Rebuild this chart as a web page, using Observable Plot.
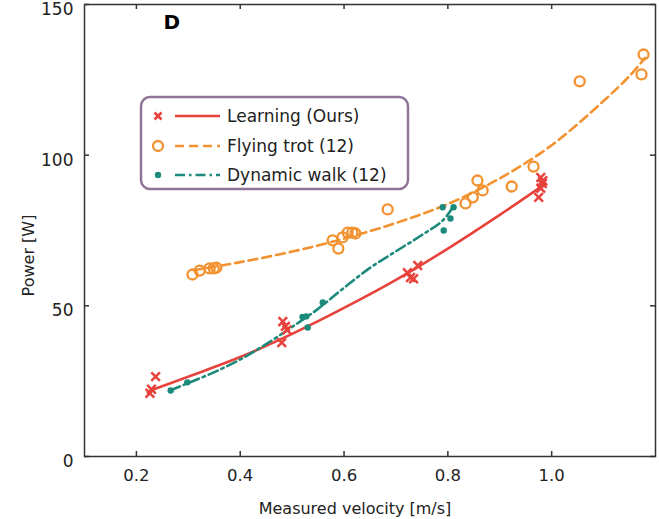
<!DOCTYPE html>
<html><head><meta charset="utf-8">
<script src="https://cdn.jsdelivr.net/npm/d3@7"></script>
<script src="https://cdn.jsdelivr.net/npm/@observablehq/plot@0.6"></script>
<style>
body{margin:0;background:#fff}
#chart svg{overflow:visible}
</style>
</head><body><div id="chart"></div>
<script>
// ---- data ----
const learningV = [0.226, 0.229, 0.237, 0.480, 0.482, 0.487, 0.490, 0.722, 0.728, 0.734, 0.742, 0.975, 0.979, 0.979, 0.982, 0.983];
const learningP = [21.0, 22.3, 26.5, 37.8, 44.8, 43.2, 42.0, 61.0, 59.4, 59.0, 63.4, 86.0, 92.6, 89.0, 90.6, 91.5];
const trotV = [0.308, 0.322, 0.341, 0.349, 0.354, 0.578, 0.589, 0.597, 0.607, 0.616, 0.622, 0.684, 0.834, 0.848, 0.857, 0.867, 0.923, 0.965, 1.054, 1.173, 1.177];
const trotP = [60.4, 61.7, 62.4, 62.4, 62.7, 71.7, 69.0, 72.7, 74.3, 74.3, 74.0, 82.0, 84.0, 86.0, 91.6, 88.3, 89.6, 96.2, 124.5, 126.8, 133.4];
const walkV = [0.266, 0.298, 0.520, 0.527, 0.530, 0.559, 0.790, 0.792, 0.805, 0.811];
const walkP = [21.9, 24.6, 46.3, 46.5, 42.8, 51.1, 82.7, 75.0, 79.0, 82.7];

// fitted curves
const learnFitV = [0.227, 0.3, 0.4, 0.5, 0.6, 0.7, 0.8, 0.9, 0.975];
const learnFitP = [21.9, 26.5, 33.0, 40.7, 49.3, 58.6, 69.0, 80.2, 89.0];
const trotFitV = [0.31, 0.4, 0.5, 0.6, 0.7, 0.8, 0.9, 1.0, 1.1, 1.15, 1.18];
const trotFitP = [61.8, 64.5, 68.0, 72.3, 77.5, 83.8, 92.3, 103.3, 118.0, 126.3, 132.3];
const walkFitV = [0.266, 0.3, 0.35, 0.4, 0.45, 0.5, 0.55, 0.6, 0.65, 0.7, 0.75, 0.79, 0.81];
const walkFitP = [22.0, 24.4, 28.0, 32.2, 37.3, 43.0, 49.0, 56.0, 62.6, 68.1, 73.5, 78.3, 82.8];

const xTicks = [0.2, 0.4, 0.6, 0.8, 1.0];
const yTicks = [0, 50, 100, 150];
const seriesNames = ["Learning (Ours)", "Flying trot (12)", "Dynamic walk (12)"];
const panelLabel = "D";
const xLabel = "Measured velocity [m/s]";
const yLabel = "Power [W]";

// ---- styling ----
const RED = "#e8423d", ORANGE = "#f39230", TEAL = "#1b8a7a";
const W = 659, H = 519, ML = 84, MR = 4, MT = 4, MB = 63;
const PW = W - ML - MR, PH = H - MT - MB;
const FONT = "DejaVu Sans, Verdana, sans-serif";

const pts = (xs, ys) => xs.map((x, i) => ({x, y: ys[i]}));

const plot = Plot.plot({
  width: W, height: H,
  marginLeft: ML, marginRight: MR, marginTop: MT, marginBottom: MB,
  style: {fontFamily: FONT, fontSize: "16px", color: "#222", background: "#fff"},
  x: {domain: [0.1, 1.2]},
  y: {domain: [0, 150]},
  marks: [
    Plot.axisX(xTicks, {tickSize: 0, tickPadding: 13, tickFormat: d3.format(".1f"), label: null, fontSize: 16.5}),
    Plot.axisY(yTicks, {tickSize: 0, tickPadding: 11, label: null, fontSize: 17, dy: 5}),
    // inward ticks on all four sides
    Plot.tickX(xTicks, {x: d => d, insetTop: PH - 5, stroke: "#333", strokeWidth: 1.5}),
    Plot.tickX(xTicks, {x: d => d, insetBottom: PH - 5, stroke: "#333", strokeWidth: 1.5}),
    Plot.tickY(yTicks, {y: d => d, insetRight: PW - 5, stroke: "#333", strokeWidth: 1.5}),
    Plot.tickY(yTicks, {y: d => d, insetLeft: PW - 5, stroke: "#333", strokeWidth: 1.5}),
    // fitted lines
    Plot.line(pts(learnFitV, learnFitP), {x: "x", y: "y", stroke: RED, strokeWidth: 2.6, curve: "catmull-rom"}),
    Plot.line(pts(trotFitV, trotFitP), {x: "x", y: "y", stroke: ORANGE, strokeWidth: 2.6, strokeDasharray: "9,5", curve: "catmull-rom"}),
    Plot.line(pts(walkFitV, walkFitP), {x: "x", y: "y", stroke: TEAL, strokeWidth: 2.6, strokeDasharray: "10,4,2.5,4", curve: "catmull-rom"}),
    // points
    Plot.dot(pts(learningV, learningP), {x: "x", y: "y", symbol: "times", r: 4, stroke: RED, strokeWidth: 2.5}),
    Plot.dot(pts(trotV, trotP), {x: "x", y: "y", symbol: "circle", r: 5, stroke: ORANGE, fill: "none", strokeWidth: 2.3}),
    Plot.dot(pts(walkV, walkP), {x: "x", y: "y", symbol: "circle", r: 3.2, fill: TEAL, stroke: "none"}),
    Plot.frame({stroke: "#333", strokeWidth: 1.5}),
    // texts
    Plot.text([panelLabel], {frameAnchor: "top-left", dx: 79, dy: 10, fontSize: 20, fontWeight: "bold", fill: "#000"}),
    Plot.text([yLabel], {frameAnchor: "left", textAnchor: "middle", lineAnchor: "middle", dx: -56, dy: 25, rotate: -90, fontSize: 16, fill: "#222"}),
    Plot.text([xLabel], {frameAnchor: "bottom", textAnchor: "middle", lineAnchor: "middle", dx: -15, dy: 52, fontSize: 16, fill: "#222"})
  ]
});
document.getElementById("chart").appendChild(plot);

// ---- legend ----
const svg = d3.select(plot);
const lg = svg.append("g").attr("font-family", FONT).attr("font-size", 17).attr("fill", "#222").attr("text-anchor", "start");
lg.append("rect").attr("x", 141).attr("y", 97).attr("width", 267).attr("height", 92)
  .attr("rx", 9).attr("fill", "#fff").attr("stroke", "#8f7597").attr("stroke-width", 2.5);
const rows = [
  {y: 116, color: RED, dash: null, sym: "x"},
  {y: 146, color: ORANGE, dash: "9,5", sym: "o"},
  {y: 175, color: TEAL, dash: "10,4,2.5,4", sym: "dot"}
];
rows.forEach((r, i) => {
  const g = lg.append("g");
  if (r.sym === "x") {
    g.append("path").attr("d", `M${158-3.5},${r.y-3.5}L${158+3.5},${r.y+3.5}M${158-3.5},${r.y+3.5}L${158+3.5},${r.y-3.5}`)
      .attr("stroke", r.color).attr("stroke-width", 2.5);
  } else if (r.sym === "o") {
    g.append("circle").attr("cx", 158).attr("cy", r.y).attr("r", 5).attr("fill", "none").attr("stroke", r.color).attr("stroke-width", 2.3);
  } else {
    g.append("circle").attr("cx", 158).attr("cy", r.y).attr("r", 3.2).attr("fill", r.color);
  }
  const ln = g.append("line").attr("x1", 175).attr("x2", 220).attr("y1", r.y).attr("y2", r.y)
    .attr("stroke", r.color).attr("stroke-width", 2.6);
  if (r.dash) ln.attr("stroke-dasharray", r.dash);
  g.append("text").attr("x", 227).attr("y", r.y).attr("dy", "0.35em").attr("text-anchor", "start").text(seriesNames[i]);
});
</script>
</body></html>
